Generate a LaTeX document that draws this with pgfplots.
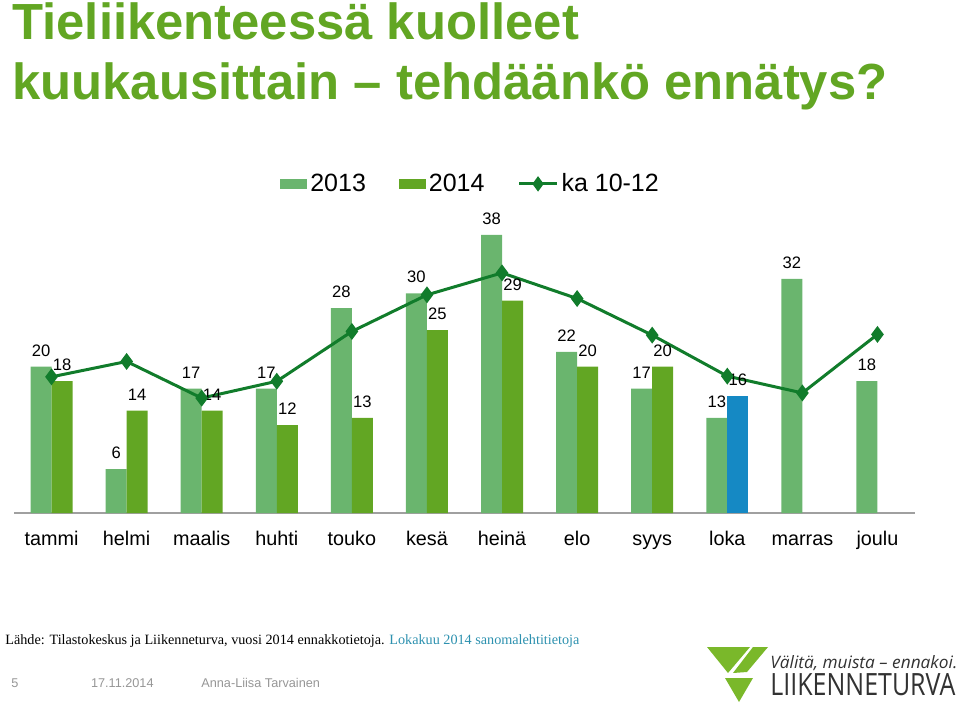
\documentclass[border=0pt]{standalone}
\usepackage{fontspec}
\setmainfont{Liberation Sans}
\newfontfamily\seriffont{Liberation Serif}
\newfontfamily\logofont{Open Sans}
\usepackage{pgfplots}
\pgfplotsset{compat=1.18}
\definecolor{cA}{RGB}{106,181,110}
\definecolor{cB}{RGB}{98,166,35}
\definecolor{cBlue}{RGB}{21,137,196}
\definecolor{cLine}{RGB}{17,124,43}
\definecolor{cTitle}{RGB}{98,166,35}
\definecolor{cTeal}{RGB}{45,145,175}
\definecolor{cGray}{RGB}{150,150,150}
\definecolor{cAxis}{RGB}{160,160,160}
\definecolor{cLogo}{RGB}{122,184,42}
\definecolor{cLogoText}{RGB}{50,50,50}
\begin{document}
\begin{tikzpicture}
\path[use as bounding box] (0pt,0pt) rectangle (479.5pt,351.5pt);
\node[anchor=base west, inner sep=0pt, text=cTitle, font=\fontsize{25.4}{30}\selectfont\bfseries] at (6pt,331.5pt) {Tieliikenteessä kuolleet};
\node[anchor=base west, inner sep=0pt, text=cTitle, font=\fontsize{25.4}{30}\selectfont\bfseries] at (6pt,301.5pt) {kuukausittain – tehdäänkö ennätys?};
\begin{axis}[
  at={(7pt,95pt)}, anchor=south west, scale only axis,
  width=450.5pt, height=146.4pt,
  xmin=-0.5, xmax=11.5, ymin=0, ymax=40,
  axis x line=bottom, axis y line=none,
  x axis line style={draw=cAxis, line width=0.7pt, -},
  xtick={0,...,11},
  xticklabels={tammi,helmi,maalis,huhti,touko,kesä,heinä,elo,syys,loka,marras,joulu},
  major tick length=0pt,
  xticklabel style={font=\fontsize{9.9}{12}\selectfont, anchor=base, inner sep=0pt, yshift=-16pt},
  ytick=\empty,
  /pgf/number format/assume math mode=true,
  bar width=0.28,
  clip=false,
  every node near coord/.append style={font=\fontsize{8.3}{10}\selectfont, inner sep=0pt, yshift=5pt, text=black},
  legend columns=3,
  legend style={at={(0.5073,1.124)}, anchor=center, draw=none, fill=none,
    font=\fontsize{12.5}{14}\selectfont,
    nodes={inner xsep=1.5pt, inner ysep=0pt},
    /tikz/every even column/.append style={column sep=15pt}},
]
\addplot[ybar, bar shift=-0.14, fill=cA, draw=none, nodes near coords,
  every node near coord/.append style={xshift=-5.25pt},
  legend image code/.code={\fill[cA] (0pt,-2.5pt) rectangle (13.5pt,2.5pt);}]
  coordinates {(0,20) (1,6) (2,17) (3,17) (4,28) (5,30) (6,38) (7,22) (8,17) (9,13) (10,32) (11,18)};
\addlegendentry{2013\hspace{3pt}}
\addplot[ybar, bar shift=0.14, fill=cB, draw=none, nodes near coords,
  every node near coord/.append style={xshift=5.25pt},
  legend image code/.code={\fill[cB] (0pt,-2.5pt) rectangle (13.5pt,2.5pt);}]
  coordinates {(0,18) (1,14) (2,14) (3,12) (4,13) (5,25) (6,29) (7,20) (8,20)};
\addlegendentry{2014}
\addplot[ybar, bar shift=0.14, fill=cBlue, draw=none, nodes near coords, forget plot,
  every node near coord/.append style={xshift=5.25pt}]
  coordinates {(9,16)};
\addplot[color=cLine, line width=1.5pt, mark=diamond*, mark size=3pt,
  legend image code/.code={\draw[cLine, line width=1.5pt] (0pt,0pt) -- (19pt,0pt);
    \fill[cLine] (9.5pt,2.6pt) -- (11.4pt,0pt) -- (9.5pt,-2.6pt) -- (7.6pt,0pt) -- cycle;}]
  coordinates {(0,18.6) (1,20.7) (2,15.7) (3,18.0) (4,24.8) (5,29.8) (6,32.8) (7,29.3) (8,24.3) (9,18.7) (10,16.4) (11,24.4)};
\addlegendentry{ka 10-12}
\end{axis}
% source line
\node[anchor=base west, inner sep=0pt, font=\seriffont\fontsize{7.1}{8}\selectfont] at (2.5pt,29.3pt)
  {Lähde: Tilastokeskus ja Liikenneturva, vuosi 2014 ennakkotietoja. \textcolor{cTeal}{Lokakuu 2014 sanomalehtitietoja}};
% footer
\node[anchor=base west, inner sep=0pt, text=cGray, font=\fontsize{6.35}{8}\selectfont] at (5.5pt,8pt) {5};
\node[anchor=base west, inner sep=0pt, text=cGray, font=\fontsize{6.35}{8}\selectfont] at (45.3pt,8pt) {17.11.2014};
\node[anchor=base west, inner sep=0pt, text=cGray, font=\fontsize{6.35}{8}\selectfont] at (100.5pt,8pt) {Anna-Liisa Tarvainen};
% logo
\fill[cLogo] (353.5pt,28pt) -- (375pt,28pt) -- (364pt,15pt) -- cycle;
\fill[cLogo] (376.5pt,28pt) -- (384pt,28pt) -- (373.5pt,15.5pt) -- (366.5pt,15pt) -- cycle;
\fill[cLogo] (362.5pt,12.5pt) -- (376.5pt,12.5pt) -- (369.5pt,0.5pt) -- cycle;
\node[anchor=base west, inner sep=0pt, text=cLogoText] at (385pt,17.5pt)
  {\resizebox{93.5pt}{6.5pt}{\logofont\itshape Välitä, muista – ennakoi.}};
\node[anchor=base west, inner sep=0pt, text=cLogoText] at (385pt,4pt)
  {\resizebox{92.5pt}{11pt}{\logofont LIIKENNETURVA}};
\end{tikzpicture}
\end{document}
